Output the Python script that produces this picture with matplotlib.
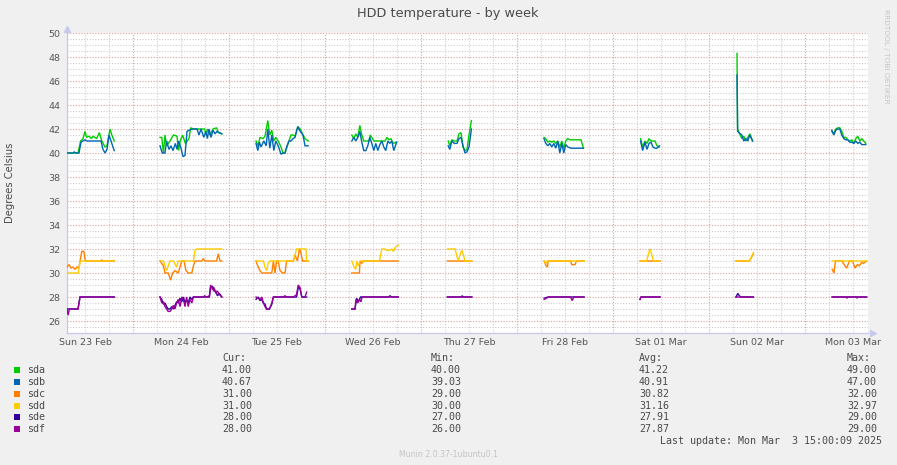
import numpy as np
import matplotlib
matplotlib.use("Agg")
import matplotlib.pyplot as plt
from matplotlib.patches import Rectangle

# ---------------- data ----------------
SERIES_NAMES = ["sda", "sdb", "sdc", "sdd", "sde", "sdf"]
SERIES_COLORS = ["#00CC00", "#0066B3", "#FF8000", "#FFCC00", "#330099", "#990099"]
DAY_LABELS = ["Sun 23 Feb", "Mon 24 Feb", "Tue 25 Feb", "Wed 26 Feb", "Thu 27 Feb",
              "Fri 28 Feb", "Sat 01 Mar", "Sun 02 Mar", "Mon 03 Mar"]
Y_TICKS = [26, 28, 30, 32, 34, 36, 38, 40, 42, 44, 46, 48, 50]
CUR = ["41.00", "40.67", "31.00", "31.00", "28.00", "28.00"]
MIN = ["40.00", "39.03", "29.00", "30.00", "27.00", "26.00"]
AVG = ["41.22", "40.91", "30.82", "31.16", "27.91", "27.87"]
MAX = ["49.00", "47.00", "32.00", "32.97", "29.00", "29.00"]

# hours since Sun 23 Feb 00:00, temperature; one sub-list per contiguous segment
SDA = [
    [(7.5, 40.0), (10.25, 40.0), (10.9, 41.0), (11.5, 41.2), (12.0, 41.8), (12.4, 41.3), (13.0, 41.4),
     (13.6, 41.2), (14.0, 41.4), (14.9, 41.2), (15.6, 41.7), (16.2, 41.0), (17.0, 40.5), (17.5, 40.6),
     (18.25, 42.0), (18.7, 41.5), (19.3, 41.0)],
    [(30.75, 41.3), (31.2, 41.3), (31.6, 40.0), (32.0, 41.5), (32.4, 40.6), (33.25, 41.0), (34.1, 41.5),
     (35.0, 41.4), (35.4, 40.2), (35.8, 41.0), (36.4, 41.5), (37.1, 40.8), (38.0, 41.2), (38.4, 42.1),
     (39.2, 42.0), (41.9, 42.0), (42.3, 41.5), (42.6, 42.0), (43.2, 41.5), (44.0, 42.0), (44.9, 42.1),
     (45.3, 41.7), (46.2, 41.6)],
    [(54.75, 41.0), (55.25, 40.6), (55.75, 41.3), (56.5, 41.2), (57.0, 41.4), (57.7, 42.7), (58.2, 41.5),
     (58.7, 41.9), (59.2, 41.0), (59.7, 41.3), (60.3, 41.0), (61.0, 40.5), (61.5, 40.0), (62.0, 40.0),
     (62.5, 40.5), (63.0, 41.0), (63.5, 41.5), (64.0, 41.5), (64.5, 41.4), (65.2, 42.2), (65.8, 42.0),
     (66.5, 41.5), (67.0, 41.2), (67.8, 41.0)],
    [(78.7, 41.5), (79.2, 41.2), (79.7, 41.6), (80.2, 41.3), (80.7, 42.3), (81.2, 41.5), (81.7, 41.0),
     (83.0, 41.0), (83.3, 41.5), (83.7, 41.3), (84.2, 41.0), (87.0, 41.0), (87.5, 41.3), (88.0, 41.1),
     (88.5, 41.2), (89.0, 40.8), (89.9, 40.9)],
    [(102.8, 41.0), (103.2, 40.6), (103.7, 41.1), (104.3, 41.0), (105.0, 41.0), (105.5, 41.6),
     (106.0, 41.7), (106.5, 40.5), (107.0, 40.2), (107.5, 40.3), (108.0, 41.5), (108.6, 42.7)],
    [(126.75, 41.3), (127.2, 41.2), (127.7, 40.9), (128.2, 41.0), (128.7, 40.9), (129.2, 41.0),
     (129.7, 40.8), (130.2, 41.0), (130.7, 40.5), (131.2, 41.0), (131.7, 40.4), (132.2, 41.0),
     (132.7, 41.2), (133.2, 41.1), (136.0, 41.1), (136.6, 40.4)],
    [(150.9, 41.2), (151.4, 40.5), (152.0, 41.0), (152.5, 40.8), (153.0, 41.2), (153.5, 41.0),
     (154.5, 41.0), (155.0, 40.6), (155.6, 40.5)],
    [(175.0, 48.3), (175.15, 42.0), (175.8, 41.5), (176.2, 41.2), (176.7, 41.4), (177.2, 41.0),
     (177.7, 41.3), (178.2, 41.6), (178.9, 41.0)],
    [(198.7, 41.8), (199.2, 41.6), (199.7, 42.0), (200.2, 42.1), (200.7, 42.1), (201.2, 41.8),
     (201.7, 41.3), (202.2, 41.3), (202.7, 41.1), (203.2, 41.0), (203.7, 41.1), (204.2, 40.8),
     (204.7, 41.2), (205.2, 41.4), (205.7, 41.0), (206.2, 41.2), (206.7, 41.0), (207.2, 40.8)],
]
SDB = [
    [(7.5, 40.0), (9.0, 40.0), (9.3, 40.1), (9.6, 40.0), (10.5, 40.0), (11.0, 40.9), (12.0, 41.1),
     (12.5, 41.0), (16.0, 41.0), (16.5, 40.3), (17.0, 40.0), (17.5, 40.3), (18.0, 41.5), (18.7, 40.8),
     (19.3, 40.2)],
    [(30.75, 40.6), (31.3, 40.0), (32.0, 40.0), (32.4, 41.0), (33.0, 40.3), (33.5, 40.6), (34.0, 40.2),
     (34.6, 40.8), (35.0, 40.3), (35.4, 41.0), (36.0, 40.4), (36.5, 39.7), (37.0, 39.8), (37.5, 41.8),
     (38.0, 41.9), (39.0, 42.0), (40.0, 42.0), (40.5, 41.5), (41.0, 42.0), (41.7, 41.3), (42.2, 41.8),
     (42.6, 41.2), (43.0, 42.0), (43.5, 41.3), (44.0, 41.9), (44.5, 41.6), (45.0, 41.8), (46.2, 41.6)],
    [(54.75, 40.8), (55.2, 40.2), (55.6, 40.9), (56.0, 40.5), (56.7, 41.0), (57.3, 40.6), (57.7, 42.0),
     (58.2, 40.4), (58.7, 41.5), (59.2, 40.2), (59.7, 41.0), (60.3, 40.6), (61.0, 39.9), (61.5, 40.0),
     (62.0, 40.0), (62.5, 40.6), (63.0, 41.0), (63.5, 41.0), (64.0, 41.2), (64.5, 41.3), (65.2, 42.2),
     (65.8, 41.8), (66.5, 41.5), (67.0, 40.6), (67.8, 40.6)],
    [(78.7, 41.0), (79.2, 41.3), (79.7, 41.0), (80.2, 41.3), (80.7, 41.8), (81.2, 40.9), (81.7, 40.2),
     (82.2, 40.2), (82.7, 40.6), (83.2, 41.3), (83.7, 40.8), (84.2, 40.2), (84.7, 40.8), (85.2, 40.2),
     (85.7, 40.7), (86.2, 41.0), (86.7, 40.5), (87.2, 40.2), (87.7, 41.0), (88.2, 40.8), (88.7, 41.0),
     (89.2, 40.2), (89.9, 40.9)],
    [(102.8, 40.6), (103.2, 40.3), (103.7, 41.0), (104.3, 40.8), (105.0, 40.8), (105.5, 41.2),
     (106.0, 41.3), (106.5, 40.6), (107.0, 40.0), (107.5, 40.1), (108.0, 40.5), (108.6, 42.0)],
    [(126.75, 41.2), (127.2, 40.8), (127.7, 40.6), (128.2, 40.8), (128.7, 40.5), (129.2, 40.8),
     (129.7, 40.4), (130.2, 41.0), (130.7, 40.0), (131.2, 40.8), (131.7, 40.0), (132.2, 40.7),
     (132.7, 40.5), (133.5, 40.4), (136.6, 40.4)],
    [(150.9, 41.0), (151.4, 40.2), (152.0, 40.9), (152.5, 40.3), (153.0, 40.8), (153.5, 40.9),
     (154.0, 40.5), (154.5, 40.4), (155.0, 40.4), (155.6, 40.6)],
    [(175.0, 46.5), (175.15, 41.8), (175.8, 41.6), (176.2, 41.5), (176.7, 41.0), (177.2, 41.2),
     (177.7, 41.0), (178.2, 41.5), (178.9, 41.0)],
    [(198.7, 41.9), (199.2, 41.5), (199.7, 41.9), (200.2, 42.0), (200.7, 42.0), (201.2, 41.5),
     (201.7, 41.2), (202.2, 41.1), (202.7, 41.1), (203.2, 40.9), (203.7, 40.9), (204.2, 40.8),
     (204.7, 41.0), (205.2, 40.8), (205.7, 40.9), (206.2, 40.7), (206.7, 40.7), (207.2, 40.7)],
]
SDC = [
    [(7.5, 30.5), (8.0, 30.7), (8.5, 30.4), (9.0, 30.5), (9.5, 30.3), (10.0, 30.5), (10.5, 30.4),
     (10.75, 31.0), (11.2, 31.8), (11.7, 31.8), (12.1, 31.0), (16.0, 31.0), (16.2, 31.1), (16.5, 31.0),
     (19.3, 31.0)],
    [(30.75, 31.0), (31.6, 30.6), (32.0, 30.0), (32.8, 30.0), (33.4, 29.4), (33.9, 30.0), (34.5, 30.2),
     (35.3, 30.0), (36.2, 31.0), (36.75, 31.0), (37.25, 30.2), (37.8, 30.0), (38.7, 30.0), (39.1, 30.6),
     (39.5, 31.0), (41.2, 31.0), (41.6, 31.2), (42.0, 31.0), (44.9, 31.0), (45.3, 31.6), (45.75, 31.0),
     (46.2, 31.0)],
    [(54.75, 31.0), (55.3, 30.5), (55.75, 30.2), (56.2, 30.0), (58.7, 30.0), (59.1, 31.0), (59.5, 30.0),
     (59.9, 31.0), (60.3, 31.0), (60.75, 30.2), (61.4, 30.0), (62.0, 30.0), (62.4, 31.0), (64.1, 31.0),
     (64.5, 31.5), (65.1, 31.0), (65.6, 32.0), (65.9, 31.8), (66.4, 31.0), (67.8, 31.0)],
    [(78.7, 30.0), (80.6, 30.0), (80.75, 31.0), (81.2, 30.8), (81.6, 31.0), (90.3, 31.0)],
    [(102.6, 31.0), (108.7, 31.0)],
    [(126.8, 31.0), (127.25, 30.6), (127.6, 30.5), (127.8, 31.0), (133.4, 31.0), (133.7, 30.7),
     (134.5, 30.7), (134.9, 31.0), (136.75, 31.0)],
    [(150.75, 31.0), (155.75, 31.0)],
    [(174.75, 31.0), (178.1, 31.0), (179.1, 31.6)],
    [(198.8, 30.3), (199.25, 30.0), (199.6, 31.0), (201.2, 31.0), (201.8, 30.7), (202.4, 30.4),
     (203.1, 31.0), (203.9, 31.0), (204.5, 30.4), (205.1, 30.7), (205.6, 30.6), (206.2, 30.9),
     (206.6, 30.8), (207.4, 31.0)],
]
SDD = [
    [(7.5, 30.0), (10.3, 30.0), (10.8, 31.0), (19.3, 31.0)],
    [(30.75, 31.0), (31.6, 31.0), (32.4, 30.2), (33.25, 31.0), (34.1, 31.0), (34.9, 30.5), (35.3, 31.0),
     (39.1, 31.0), (39.5, 31.9), (40.0, 32.0), (46.2, 32.0)],
    [(54.75, 31.0), (56.6, 31.0), (57.0, 30.5), (57.4, 30.2), (57.8, 30.8), (58.25, 31.0), (64.1, 31.0),
     (64.5, 31.5), (64.9, 32.0), (67.25, 32.0), (67.4, 31.0), (67.8, 31.0)],
    [(78.7, 31.0), (79.25, 30.5), (79.7, 30.3), (79.9, 31.0), (80.3, 30.6), (80.75, 31.0), (85.6, 31.0),
     (86.2, 32.0), (87.0, 32.0), (87.4, 31.9), (88.25, 31.9), (88.7, 32.0), (89.1, 31.8), (89.7, 32.2),
     (90.3, 32.3)],
    [(102.6, 32.0), (104.5, 32.0), (104.9, 31.5), (105.3, 31.0), (105.75, 31.5), (106.2, 31.9),
     (106.6, 31.5), (107.0, 31.0), (108.7, 31.0)],
    [(126.8, 31.0), (127.25, 30.8), (127.6, 31.0), (136.75, 31.0)],
    [(150.75, 31.0), (152.4, 31.0), (152.8, 31.5), (153.25, 32.0), (153.7, 31.5), (154.1, 31.0),
     (155.75, 31.0)],
    [(174.75, 31.0), (178.1, 31.0), (179.1, 31.7)],
    [(198.8, 31.0), (207.4, 31.0)],
]
SDE = [
    [(7.5, 27.0), (10.25, 27.0), (10.75, 28.0), (19.3, 28.0)],
    [(30.75, 28.0), (31.2, 27.8), (31.6, 27.4), (32.0, 27.5), (32.4, 27.2), (32.8, 27.0), (33.25, 27.0),
     (33.7, 27.2), (34.1, 27.0), (34.5, 27.3), (34.9, 27.6), (35.3, 27.5), (35.75, 27.9), (36.2, 27.6),
     (36.6, 28.0), (37.0, 27.5), (37.4, 27.8), (37.8, 27.5), (38.25, 28.0), (38.7, 27.8), (39.1, 28.0),
     (43.1, 28.0), (43.4, 28.8), (43.9, 28.9), (44.25, 28.5), (44.7, 28.5), (45.1, 28.1), (45.6, 28.3),
     (46.2, 28.0)],
    [(54.75, 27.8), (55.3, 28.0), (55.75, 27.7), (56.2, 27.8), (56.6, 27.5), (57.0, 27.4), (57.4, 27.0),
     (58.1, 27.0), (58.7, 27.4), (59.1, 28.0), (64.9, 28.0), (65.3, 28.8), (65.75, 28.7), (66.2, 28.0),
     (67.4, 28.0)],
    [(78.7, 27.0), (79.5, 27.0), (79.9, 27.9), (80.3, 27.6), (80.9, 28.0), (87.8, 28.0), (88.25, 28.1),
     (88.7, 28.0), (90.3, 28.0)],
    [(102.6, 28.0), (106.0, 28.0), (106.3, 28.1), (106.6, 28.0), (108.7, 28.0)],
    [(126.8, 27.9), (127.8, 28.0), (136.75, 28.0)],
    [(150.75, 27.8), (151.0, 28.0), (155.75, 28.0)],
    [(174.75, 28.0), (175.2, 28.3), (175.6, 28.1), (176.0, 28.0), (179.1, 28.0)],
    [(198.8, 28.0), (207.4, 28.0)],
]
SDF = [
    [(7.5, 27.0), (7.8, 26.5), (8.1, 27.0), (10.25, 27.0), (10.75, 28.0), (19.3, 28.0)],
    [(30.75, 28.0), (31.2, 27.5), (31.6, 27.6), (32.0, 27.2), (32.4, 27.0), (32.8, 26.8), (33.25, 26.8),
     (33.7, 27.0), (34.1, 27.3), (34.5, 27.0), (34.9, 27.5), (35.3, 27.8), (35.75, 27.2), (36.2, 28.0),
     (36.6, 27.8), (37.0, 27.2), (37.4, 28.0), (37.8, 27.2), (38.25, 27.8), (38.7, 27.5), (39.1, 28.0),
     (41.6, 28.0), (41.9, 28.1), (42.4, 28.0), (43.1, 28.1), (43.4, 29.0), (43.9, 28.6), (44.25, 28.8),
     (44.7, 28.3), (45.1, 28.5), (45.6, 28.2), (46.2, 28.0)],
    [(54.75, 28.0), (55.3, 27.9), (55.75, 27.8), (56.2, 28.0), (56.6, 27.5), (57.0, 27.2), (57.4, 27.0),
     (58.1, 27.0), (58.7, 27.5), (59.1, 28.0), (61.6, 28.0), (62.0, 28.1), (62.4, 28.0), (64.1, 28.0),
     (64.9, 28.2), (65.3, 29.0), (65.75, 28.8), (66.2, 28.0), (67.0, 28.0), (67.4, 28.4)],
    [(78.7, 27.0), (79.5, 27.0), (79.75, 27.8), (80.2, 27.5), (80.6, 27.8), (81.0, 27.6), (81.25, 28.0),
     (90.3, 28.0)],
    [(102.6, 28.0), (108.7, 28.0)],
    [(126.8, 27.8), (127.4, 27.9), (127.8, 28.0), (133.4, 28.0), (133.8, 27.7), (134.2, 28.0),
     (136.75, 28.0)],
    [(150.75, 27.8), (151.0, 28.0), (155.75, 28.0)],
    [(174.75, 28.0), (179.1, 28.0)],
    [(198.8, 28.0), (202.3, 28.0), (202.5, 27.9), (202.7, 28.0), (204.8, 28.0), (205.0, 27.9),
     (205.2, 28.0), (207.4, 28.0)],
]
SERIES = [SDA, SDB, SDC, SDD, SDE, SDF]

# ---------------- layout ----------------
W, H = 897, 465
DPI = 100
BG = "#F0F0F0"
TXT = "#4A4A4A"
MONO = "DejaVu Sans Mono"


def fx(x):
    return x / W


def fy(y):
    return 1 - y / H


fig = plt.figure(figsize=(W / DPI, H / DPI), dpi=DPI, facecolor=BG)
ax = fig.add_axes([fx(67), fy(333), (868 - 67) / W, 300 / H])
ax.set_facecolor("white")

x_lo, x_hi = 7.5, 207.75
ax.set_xlim(x_lo, x_hi)
ax.set_ylim(25, 50)

# grid
minor_style = dict(color="#CFCFCF", lw=0.8, ls=(0, (1, 1.5)), zorder=0)
major_style = dict(color="#DE9C9C", lw=0.8, ls=(0, (1, 1.5)), zorder=0)
for h in np.arange(12, x_hi, 6):
    ax.axvline(h, **(major_style if h % 24 == 0 else minor_style))
for v in np.arange(25.5, 50.01, 0.5):
    ax.axhline(v, **(major_style if v % 2 == 0 else minor_style))

# data lines
for series, color in zip(SERIES, SERIES_COLORS):
    xs, ys = [], []
    for seg in series:
        for h, v in seg:
            xs.append(h)
            ys.append(v)
        xs.append(np.nan)
        ys.append(np.nan)
    ax.plot(xs, ys, color=color, lw=1.0, solid_joinstyle="miter", zorder=3)

# axes
for s in ["top", "right"]:
    ax.spines[s].set_visible(False)
for s in ["left", "bottom"]:
    ax.spines[s].set_color("#C8C8EE")
    ax.spines[s].set_linewidth(0.9)
ax.plot([0], [1.012], marker="^", ms=4, color="#C8C8EE", transform=ax.transAxes, clip_on=False)
ax.plot([1.006], [0], marker=">", ms=4, color="#C8C8EE", transform=ax.transAxes, clip_on=False)

ax.set_xticks(np.arange(12, x_hi, 24))
ax.set_xticklabels(DAY_LABELS, fontsize=6.8, color="#555555")
ax.set_yticks(Y_TICKS)
ax.set_yticklabels([str(t) for t in Y_TICKS], fontsize=6.8, color="#555555")
ax.tick_params(axis="both", length=0)
ax.tick_params(axis="y", pad=4.5)
ax.tick_params(axis="x", pad=3.5)

# titles
fig.text(fx(448), fy(13), "HDD temperature - by week", ha="center", va="center",
         fontsize=9.3, color=TXT)
fig.text(fx(10), fy(183), "Degrees Celsius", ha="center", va="center", rotation=90,
         fontsize=7.2, color=TXT)
fig.text(fx(886), fy(56), "RRDTOOL / TOBI OETIKER", ha="center", va="center", rotation=270,
         fontsize=5.3, color="#C4C4C4")

# legend
row0, dy = 370, 11.85
col_x = [222, 431, 639, 847]
headers = ["Cur:", "Min:", "Avg:", "Max:"]
for cx, hd in zip(col_x, headers):
    fig.text(fx(cx), fy(357.5), hd, ha="left", va="center", family=MONO, fontsize=7.2, color=TXT)
for i, (name, color) in enumerate(zip(SERIES_NAMES, SERIES_COLORS)):
    yc = row0 + i * dy
    fig.add_artist(Rectangle((fx(14), fy(yc + 3)), 6 / W, 6 / H, transform=fig.transFigure,
                             facecolor=color, edgecolor="none"))
    fig.text(fx(27), fy(yc), name, ha="left", va="center", family=MONO, fontsize=7.2, color=TXT)
    for cx, col in zip(col_x, [CUR, MIN, AVG, MAX]):
        fig.text(fx(cx), fy(yc), col[i], ha="left", va="center", family=MONO, fontsize=7.2, color=TXT)

fig.text(fx(882), fy(441), "Last update: Mon Mar  3 15:00:09 2025", ha="right", va="center",
         family=MONO, fontsize=7.2, color=TXT)
fig.text(fx(448), fy(454), "Munin 2.0.37-1ubuntu0.1", ha="center", va="center",
         fontsize=5.6, color="#C4C4C4")

fig.savefig("out.png", dpi=DPI, facecolor=BG)
